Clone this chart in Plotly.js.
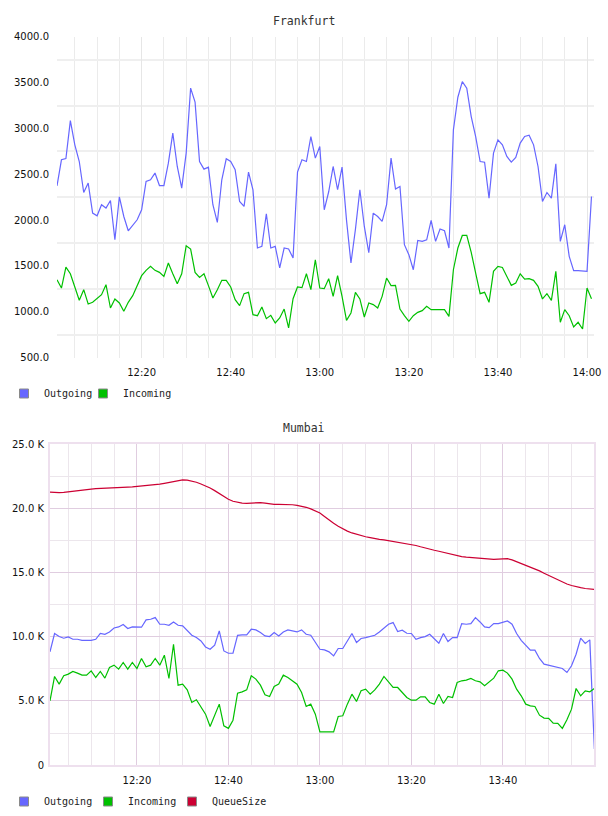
<!DOCTYPE html>
<html>
<head>
<meta charset="utf-8">
<script src="https://cdn.plot.ly/plotly-3.0.1.min.js"></script>
<style>
  html, body { margin: 0; padding: 0; background: #ffffff; }
  #chart { width: 608px; height: 816px; }
</style>
</head>
<body>
<div id="chart"></div>
<script>
// ---- Frankfurt, one sample per minute from 12:01 ----
const frankfurtOutgoing = [
  2375, 2659, 2673, 3087, 2822, 2640, 2302, 2405, 2077, 2048,
  2168, 2132, 2215, 1786, 2255, 2040, 1884, 1939, 2004, 2113,
  2422, 2441, 2514, 2378, 2378, 2622, 2950, 2586, 2350, 2732,
  3441, 3288, 2640, 2557, 2579, 2168, 1975, 2441, 2670, 2640,
  2550, 2204, 2150, 2524, 2332, 1696, 1714, 2070, 1696, 1714,
  1478, 1696, 1686, 1587, 2524, 2659, 2640, 2913, 2677, 2804,
  2113, 2310, 2586, 2332, 2579, 2000, 1532, 1900, 2332, 1931,
  1644, 2077, 2040, 1986, 2168, 2677, 2339, 2368, 1732, 1623,
  1459, 1779, 1768, 1786, 1997, 1768, 1903, 1884, 1696, 2986,
  3342, 3513, 3441, 3131, 2913, 2640, 2633, 2241, 2732, 2877,
  2822, 2695, 2633, 2684, 2841, 2913, 2928, 2822, 2586, 2204,
  2302, 2241, 2615, 1768, 1950, 1605, 1448, 1448, 1441, 1441, 2259
];
const frankfurtIncoming = [
  1350, 1259, 1488, 1415, 1270, 1125, 1241, 1085, 1103, 1140,
  1187, 1296, 1041, 1140, 1096, 1005, 1103, 1176, 1277, 1394,
  1452, 1495, 1452, 1430, 1386, 1532, 1415, 1306, 1415, 1721,
  1685, 1430, 1375, 1415, 1285, 1150, 1241, 1343, 1343, 1270,
  1132, 1067, 1198, 1212, 968, 957, 1052, 925, 961, 878,
  933, 1030, 823, 1143, 1270, 1263, 1415, 1241, 1568, 1259,
  1252, 1361, 1168, 1394, 1168, 906, 987, 1212, 1140, 943,
  1096, 1078, 1041, 1168, 1368, 1285, 1288, 1030, 957, 896,
  957, 994, 1012, 1059, 1023, 1023, 1023, 1023, 950, 1459,
  1696, 1833, 1833, 1648, 1423, 1198, 1212, 1103, 1441, 1495,
  1484, 1386, 1288, 1314, 1415, 1357, 1361, 1343, 1277, 1140,
  1198, 1125, 1441, 885, 1023, 957, 834, 885, 812, 1259, 1143
];

// ---- Mumbai, one sample per minute from 12:01 ----
const mumbaiOutgoing = [
  8830, 10260, 10020, 9890, 9990, 9810, 9810, 9730, 9730, 9730,
  9810, 10260, 10200, 10380, 10690, 10770, 10960, 10650, 10770, 10750,
  10750, 11320, 11370, 11500, 10980, 10980, 10900, 11160, 10900, 10850,
  10460, 10120, 9940, 9680, 9210, 9030, 9350, 10460, 8900, 8720,
  8720, 10120, 10150, 10150, 10590, 10540, 10340, 10070, 10020, 10340,
  10070, 10380, 10540, 10460, 10380, 10540, 10200, 10120, 9600, 9030,
  8980, 8830, 8510, 9090, 9090, 9680, 10260, 9560, 9870, 9940,
  10020, 10120, 10380, 10720, 10980, 11110, 10410, 10510, 10280, 10260,
  9810, 9940, 10020, 10200, 9810, 9500, 10260, 9630, 9940, 9940,
  11030, 10980, 11030, 11500, 11160, 10770, 10720, 11030, 11030, 11160,
  11240, 10980, 10260, 9730, 9370, 8960, 8960, 8310, 7870, 7790,
  7660, 7610, 7530, 7220, 7740, 8640, 9890, 9480, 9760, 1250
];
const mumbaiIncoming = [
  5010, 6910, 6310, 6960, 7090, 7300, 7170, 7010, 7010, 7350,
  6830, 7300, 6780, 7610, 7790, 7480, 8000, 7480, 8000, 7530,
  8310, 7660, 7790, 8310, 7790, 8570, 6750, 9420, 6230, 6310,
  5860, 4880, 5090, 4490, 3970, 3010, 3840, 4750, 3060, 2860,
  3500, 5610, 5710, 5860, 6960, 6700, 6230, 5480, 5350, 6130,
  6310, 7010, 6830, 6570, 6310, 5660, 4570, 4750, 3970, 2590,
  2590, 2620, 2590, 3790, 3840, 4750, 5530, 4960, 5790, 5920,
  5530, 5860, 6310, 6910, 6490, 6050, 6050, 5660, 5270, 5060,
  5060, 5320, 5320, 4880, 4750, 5530, 4800, 5350, 5270, 6440,
  6570, 6620, 6750, 6570, 6490, 6180, 6490, 6780, 7350, 7400,
  7170, 6700, 5920, 5400, 4750, 4620, 4570, 3890, 3660, 3640,
  3270, 3250, 2860, 3530, 4360, 5970, 5400, 5790, 5710, 5970
];
const mumbaiQueueSize = [
  21290, 21250, 21240, 21270, 21320, 21370, 21420, 21450, 21490, 21520,
  21550, 21560, 21570, 21580, 21600, 21620, 21640, 21670, 21690, 21720,
  21750, 21790, 21830, 21860, 21910, 21970, 22040, 22130, 22200, 22230,
  22220, 22150, 22050, 21920, 21780, 21600, 21400, 21180, 20930, 20730,
  20570, 20470, 20420, 20410, 20440, 20470, 20470, 20420, 20350, 20330,
  20330, 20330, 20320, 20300, 20250, 20200, 20100, 19980, 19820, 19650,
  19380, 19100, 18850, 18620, 18400, 18240, 18100, 17980, 17880, 17800,
  17740, 17660, 17600, 17560, 17500, 17450, 17400, 17340, 17270, 17210,
  17120, 17020, 16910, 16830, 16750, 16670, 16580, 16490, 16390, 16300,
  16260, 16220, 16180, 16150, 16120, 16080, 16050, 16040, 16060, 16090,
  16090, 16000, 15860, 15730, 15600, 15460, 15300, 15140, 14960, 14780,
  14600, 14430, 14270, 14120, 14000, 13900, 13830, 13770, 13720, 13690
];

// ---- axis labels ----
const mumbaiTickVals = [0, 5000, 10000, 15000, 20000, 25000];
const mumbaiTickText = ['0', '5.0 K', '10.0 K', '15.0 K', '20.0 K', '25.0 K'];
const seriesNames = ['Outgoing', 'Incoming', 'QueueSize'];
const seriesColors = ['#6666ff', '#00c000', '#cc0033'];

// ---- helpers ----
const DAY = '2024-01-01';
function stamp(totalMin, sec) {
  const hh = String(Math.floor(totalMin / 60)).padStart(2, '0');
  const mm = String(totalMin % 60).padStart(2, '0');
  const ss = String(sec || 0).padStart(2, '0');
  return `${DAY} ${hh}:${mm}:${ss}`;
}
function minuteStamps(count) {
  const out = [];
  for (let i = 0; i < count; i++) out.push(stamp(12 * 60 + 1 + i));
  return out;
}
const W = 608, H = 816;
const fx = p => p / W;          // page px -> paper x
const fy = p => 1 - p / H;      // page px -> paper y

const tFra = minuteStamps(frankfurtOutgoing.length);
const tMum = minuteStamps(mumbaiOutgoing.length);

const tickFont = { family: 'DejaVu Sans', size: 10, color: '#111111' };
const monoFont = { family: 'DejaVu Sans Mono', size: 10, color: '#222222' };

function lineTrace(x, y, color, xa, ya) {
  return {
    type: 'scatter', mode: 'lines', x: x, y: y,
    xaxis: xa, yaxis: ya,
    line: { color: color, width: 1.2 },
    showlegend: false, hoverinfo: 'skip'
  };
}
// each key entry sits in its own legend box so the entries can be spaced freely
function legendEntry(name, color, xa, ya, legendId) {
  return {
    type: 'scatter', mode: 'markers', x: [null], y: [null],
    xaxis: xa, yaxis: ya, name: name, legend: legendId,
    marker: { symbol: 'square', size: 9, color: color, line: { color: '#8a8a8a', width: 1 } },
    hoverinfo: 'skip'
  };
}
function legendBox(leftPx, topPx) {
  return {
    orientation: 'h', x: fx(leftPx), xanchor: 'left', y: fy(topPx), yanchor: 'top',
    font: monoFont, bgcolor: 'rgba(0,0,0,0)', borderwidth: 0,
    itemclick: false, itemdoubleclick: false
  };
}

const data = [
  lineTrace(tFra, frankfurtOutgoing, seriesColors[0], 'x', 'y'),
  lineTrace(tFra, frankfurtIncoming, seriesColors[1], 'x', 'y'),
  lineTrace(tMum, mumbaiOutgoing, seriesColors[0], 'x2', 'y2'),
  lineTrace(tMum, mumbaiIncoming, seriesColors[1], 'x2', 'y2'),
  lineTrace(tMum, mumbaiQueueSize, seriesColors[2], 'x2', 'y2'),
  legendEntry(seriesNames[0], seriesColors[0], 'x', 'y', 'legend'),
  legendEntry(seriesNames[1], seriesColors[1], 'x', 'y', 'legend2'),
  legendEntry(seriesNames[0], seriesColors[0], 'x2', 'y2', 'legend3'),
  legendEntry(seriesNames[1], seriesColors[1], 'x2', 'y2', 'legend4'),
  legendEntry(seriesNames[2], seriesColors[2], 'x2', 'y2', 'legend5')
];

const hiddenTicks = { ticks: 'outside', ticklen: 5, tickcolor: 'rgba(0,0,0,0)' };

const layout = {
  width: W, height: H,
  margin: { l: 0, r: 0, t: 0, b: 0 },
  paper_bgcolor: '#ffffff', plot_bgcolor: '#ffffff',
  font: tickFont,
  xaxis: Object.assign({
    domain: [fx(57), fx(594)], anchor: 'y', type: 'date',
    range: [stamp(12 * 60 + 1), stamp(14 * 60 + 1, 34)],
    tick0: stamp(12 * 60), dtick: 20 * 60000, tickformat: '%H:%M',
    showgrid: true, gridcolor: '#e6e6e6', gridwidth: 1,
    minor: { dtick: 5 * 60000, showgrid: true, gridcolor: '#ebebeb', gridwidth: 1 },
    zeroline: false, showline: false, tickfont: tickFont, fixedrange: true
  }, hiddenTicks),
  yaxis: Object.assign({
    domain: [fy(358), fy(37)], anchor: 'x',
    range: [500, 4000], tick0: 0, dtick: 500, tickformat: '.1f',
    showgrid: false,
    minor: { tickmode: 'linear', tick0: 750, dtick: 500, showgrid: true, gridcolor: '#efefef', gridwidth: 2 },
    zeroline: false, showline: false, tickfont: tickFont, fixedrange: true
  }, hiddenTicks),
  xaxis2: Object.assign({
    domain: [fx(50), fx(594)], anchor: 'y2', type: 'date',
    range: [stamp(12 * 60 + 1), stamp(13 * 60 + 59, 55)],
    tick0: stamp(12 * 60), dtick: 20 * 60000, tickformat: '%H:%M',
    showgrid: true, gridcolor: '#e0cde0', gridwidth: 1,
    minor: { dtick: 5 * 60000, showgrid: true, gridcolor: '#ece6ec', gridwidth: 1 },
    zeroline: false, showline: true, mirror: true, linecolor: '#eee0ee', linewidth: 2,
    tickfont: tickFont, fixedrange: true
  }, hiddenTicks),
  yaxis2: Object.assign({
    domain: [fy(766), fy(445)], anchor: 'x2',
    range: [0, 25000], tickmode: 'array', tickvals: mumbaiTickVals, ticktext: mumbaiTickText,
    showgrid: true, gridcolor: '#e0cde0', gridwidth: 1,
    minor: { tickmode: 'linear', tick0: 2500, dtick: 5000, showgrid: true, gridcolor: '#ece6ec', gridwidth: 1 },
    zeroline: false, showline: true, mirror: true, linecolor: '#eee0ee', linewidth: 2,
    tickfont: tickFont, fixedrange: true
  }, { ticks: 'outside', ticklen: 2, tickcolor: 'rgba(0,0,0,0)' }),
  legend: legendBox(4, 379),
  legend2: legendBox(83, 379),
  legend3: legendBox(4, 788),
  legend4: legendBox(88, 788),
  legend5: legendBox(172, 788),
  annotations: [
    { text: 'Frankfurt', xref: 'paper', yref: 'paper', x: 0.5, y: fy(21),
      xanchor: 'center', yanchor: 'middle', showarrow: false,
      font: { family: 'DejaVu Sans Mono', size: 11.5, color: '#333333' } },
    { text: 'Mumbai', xref: 'paper', yref: 'paper', x: 0.5, y: fy(429),
      xanchor: 'center', yanchor: 'middle', showarrow: false,
      font: { family: 'DejaVu Sans Mono', size: 11.5, color: '#333333' } }
  ]
};

Plotly.newPlot('chart', data, layout, { staticPlot: true, displayModeBar: false });
</script>
</body>
</html>
